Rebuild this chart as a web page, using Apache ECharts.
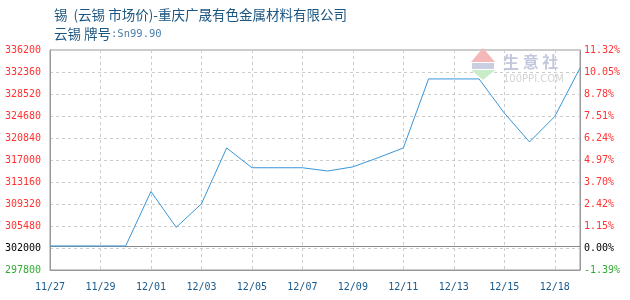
<!DOCTYPE html>
<html>
<head>
<meta charset="utf-8">
<script src="https://cdn.jsdelivr.net/npm/echarts@6/dist/echarts.min.js"></script>
<style>html,body{margin:0;padding:0;background:#fff}#c{width:630px;height:300px}</style>
</head>
<body>
<div id="c"></div>
<script>
var titleText = '锡  (云锡 市场价)-重庆广晟有色金属材料有限公司';
var subTextCn = '云锡 牌号';
var subTextGrade = ':Sn99.90';
var categories = ['11/27','11/28','11/29','11/30','12/01','12/02','12/03','12/04','12/05','12/06','12/07','12/08','12/09','12/10','12/11','12/12','12/13','12/14','12/15','12/16','12/18','12/19'];
var prices = [302000,302000,302000,302000,311500,305250,309350,319100,315650,315650,315650,315080,315800,317400,319100,331150,331150,331150,325200,320150,324600,333050];
var basePrice = 302000;
var yMin = 297800, yMax = 336200, yInterval = 3840;
var leftTickLabels = ['297800','302000','305480','309320','313160','317000','320840','324680','328520','332360','336200'];
var rightTickLabels = ['-1.39%','0.00%','1.15%','2.42%','3.70%','4.97%','6.24%','7.51%','8.78%','10.05%','11.32%'];

function tickStyle(i){ return i === 0 ? 'g' : (i === 1 ? 'k' : 'r'); }
var rich = {
  r:{color:'#ff3333', fontFamily:'DejaVu Sans Mono', fontSize:10},
  k:{color:'#000000', fontFamily:'DejaVu Sans Mono', fontSize:10},
  g:{color:'#33aa33', fontFamily:'DejaVu Sans Mono', fontSize:10}
};
function mkFormatter(labels){
  return function(v){
    var i = Math.round((v - yMin) / yInterval);
    return '{' + tickStyle(i) + '|' + (labels[i] || '') + '}';
  };
}

var chart = echarts.init(document.getElementById('c'), null, {renderer:'canvas'});
chart.setOption({
  animation:false,
  backgroundColor:'#ffffff',
  title:{
    text:titleText,
    subtext:'{a|' + subTextCn + '}{b|' + subTextGrade + '}',
    left:49, top:3, itemGap:6,
    textStyle:{fontSize:13.5, fontWeight:'normal', color:'#1c5580', fontFamily:'Noto Sans CJK SC'},
    subtextStyle:{
      fontSize:13.5, color:'#1c5580', fontFamily:'Noto Sans CJK SC',
      rich:{
        a:{fontSize:13.5, color:'#1c5580', fontFamily:'Noto Sans CJK SC'},
        b:{fontSize:10.5, color:'#4a7ca6', fontFamily:'DejaVu Sans Mono'}
      }
    }
  },
  grid:{left:50, right:50, top:50, bottom:30, show:true, borderColor:'#999999', borderWidth:1},
  xAxis:{
    type:'category', data:categories, boundaryGap:false,
    axisLine:{lineStyle:{color:'#999999'}},
    axisTick:{show:false},
    axisLabel:{interval:1, color:'#1a5a8c', fontFamily:'DejaVu Sans Mono', fontSize:10, margin:12},
    splitLine:{show:true, interval:1, lineStyle:{color:'#cccccc', type:[3,3]}}
  },
  yAxis:[{
    type:'value', min:yMin, max:yMax, interval:yInterval, position:'left',
    axisLine:{show:true, lineStyle:{color:'#999999'}},
    axisTick:{show:false},
    axisLabel:{formatter:mkFormatter(leftTickLabels), rich:rich, margin:9},
    splitLine:{show:true, lineStyle:{color:'#cccccc', type:[3,3]}}
  },{
    type:'value', min:yMin, max:yMax, interval:yInterval, position:'right',
    axisLine:{show:true, lineStyle:{color:'#999999'}},
    axisTick:{show:false},
    axisLabel:{formatter:mkFormatter(rightTickLabels), rich:rich, margin:4},
    splitLine:{show:false}
  }],
  graphic:[
    {type:'polygon', shape:{points:[[483,48],[471,62],[495,62]]}, style:{fill:'#f4b8b8'}, z:1},
    {type:'rect', shape:{x:472,y:63,width:22,height:6}, style:{fill:'#c9cfe0'}, z:1},
    {type:'polygon', shape:{points:[[471,70],[495,70],[483,80]]}, style:{fill:'#c8ecc8'}, z:1},
    {type:'text', left:503, top:54, style:{text:'生 意 社', fontSize:16, fontWeight:'bold', fill:'#c3c8de', fontFamily:'Noto Sans CJK SC'}, z:1},
    {type:'text', left:503, top:74, style:{text:'100PPI.COM', fontSize:10, fill:'#d4d4d4', fontFamily:'DejaVu Sans'}, z:1}
  ],
  series:[{
    type:'line', data:prices, yAxisIndex:0, symbol:'none', smooth:false,
    lineStyle:{color:'#3a96d8', width:1},
    z:5,
    markLine:{
      silent:true, symbol:['none','none'], label:{show:false},
      lineStyle:{color:'#888888', type:'solid', width:1},
      data:[{yAxis:basePrice}]
    }
  }]
});
</script>
</body>
</html>
